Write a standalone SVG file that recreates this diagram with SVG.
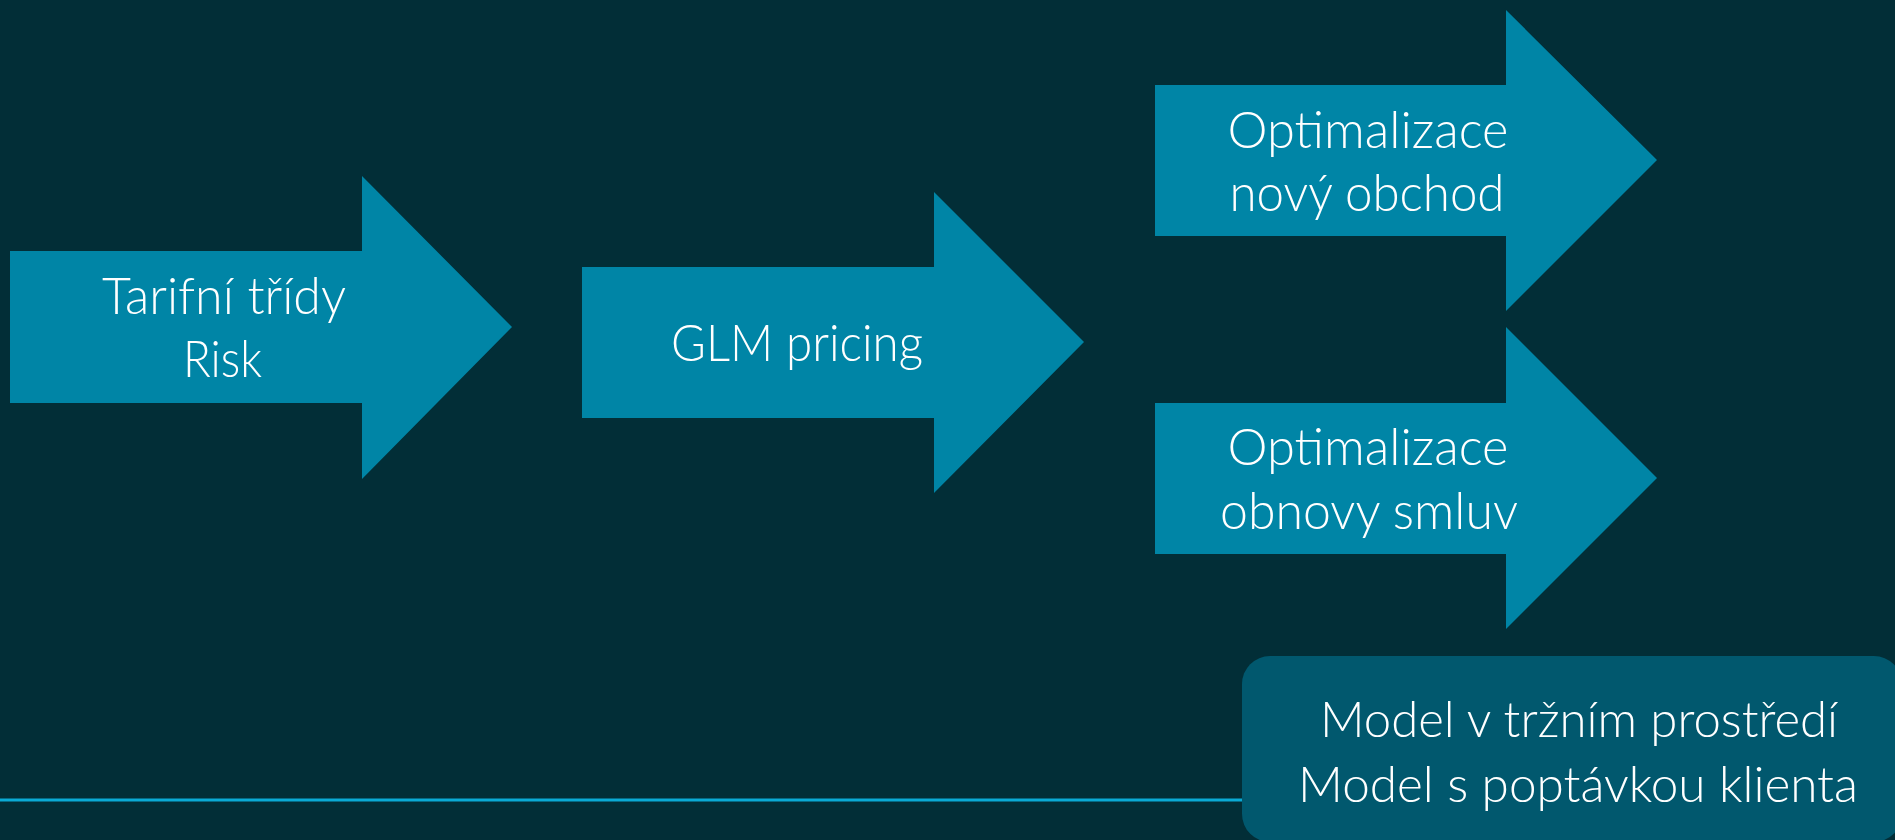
<svg xmlns="http://www.w3.org/2000/svg" width="1895" height="840" viewBox="0 0 1895 840">
<style>
.arrow{fill:#0085A6;}
.box{fill:#01586E;}
.t{font-family:Lato,"Open Sans","Liberation Sans",sans-serif;font-weight:300;font-size:51px;fill:#FFFFFF;text-anchor:middle;}
.tb{font-size:49px;}
.rule{stroke:#0AAAD5;stroke-width:3;}
</style>
<rect width="1895" height="840" fill="#022E37"/>
<g id="connectors">
<line class="rule" x1="0" y1="800" x2="1244" y2="800"/>
</g>
<g id="node-tarifni">
<polygon class="arrow" points="10,251 362,251 362,176 512,327 362,479 362,403 10,403"/>
<text class="t" x="224" y="314" textLength="244" lengthAdjust="spacingAndGlyphs">Tarifní třídy</text>
<text class="t" x="222.5" y="377" textLength="79" lengthAdjust="spacingAndGlyphs">Risk</text>
</g>
<g id="node-glm">
<polygon class="arrow" points="582,267 934,267 934,192 1084,342 934,493 934,418 582,418"/>
<text class="t" x="797" y="361" textLength="252" lengthAdjust="spacingAndGlyphs">GLM pricing</text>
</g>
<g id="node-novy">
<polygon class="arrow" points="1155,85 1506,85 1506,10 1657,160 1506,311 1506,236 1155,236"/>
<text class="t" x="1368" y="148" textLength="281" lengthAdjust="spacingAndGlyphs">Optimalizace</text>
<text class="t" x="1367" y="211" textLength="275" lengthAdjust="spacingAndGlyphs">nový obchod</text>
</g>
<g id="node-obnovy">
<polygon class="arrow" points="1155,403 1506,403 1506,327 1657,478 1506,629 1506,554 1155,554"/>
<text class="t" x="1368" y="465" textLength="281" lengthAdjust="spacingAndGlyphs">Optimalizace</text>
<text class="t" x="1369" y="529" textLength="298" lengthAdjust="spacingAndGlyphs">obnovy smluv</text>
</g>
<g id="node-model">
<rect class="box" x="1242" y="656" width="660" height="186" rx="28" ry="28"/>
<text class="t tb" x="1579" y="737" textLength="518" lengthAdjust="spacingAndGlyphs">Model v tržním prostředí</text>
<text class="t tb" x="1578" y="802" textLength="560" lengthAdjust="spacingAndGlyphs">Model s poptávkou klienta</text>
</g>
</svg>
